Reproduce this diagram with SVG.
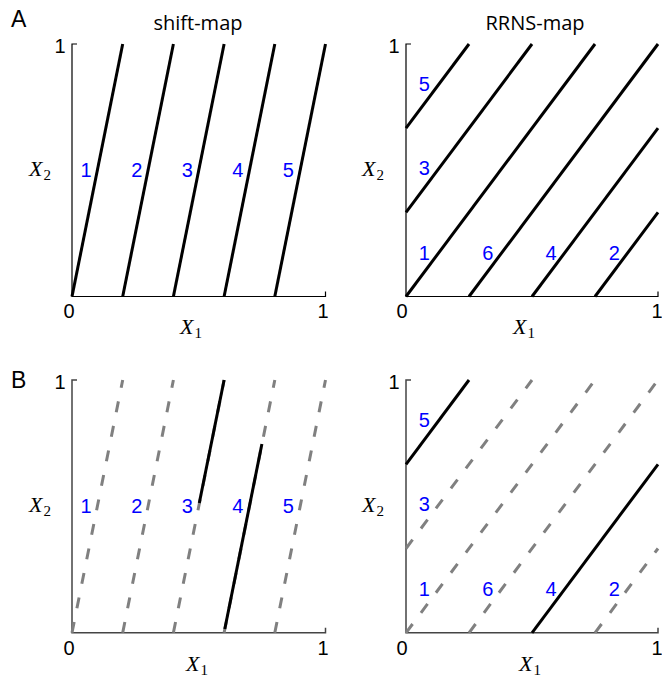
<svg xmlns="http://www.w3.org/2000/svg" width="662" height="677" viewBox="0 0 662 677">
<style>
.axA{fill:none;stroke:#000;stroke-width:1.2}
.axB{fill:none;stroke:#444;stroke-width:1.5}
.solid{stroke:#000;stroke-width:3;stroke-linecap:butt}
.dash{stroke:#808080;stroke-width:3;stroke-dasharray:11 14}
.num{font-family:"Liberation Sans",Arial,sans-serif;font-size:20px;fill:#0000ff;text-anchor:middle}
.tick{font-family:"Liberation Sans",Arial,sans-serif;font-size:20px;fill:#000;text-anchor:middle}
.title{font-family:"Open Sans","Liberation Sans",sans-serif;font-size:20px;fill:#000;text-anchor:middle}
.panel{font-family:"Liberation Sans",Arial,sans-serif;font-size:23px;fill:#000}
.var{font-family:"Liberation Serif","Times New Roman",serif;font-style:italic;font-size:22px;fill:#000}
.sub{font-family:"Liberation Serif","Times New Roman",serif;font-style:normal;font-size:15px;fill:#000}
</style>
<text class="panel" x="11" y="27">A</text>
<text class="panel" x="11" y="388">B</text>
<text class="title" x="198" y="30">shift-map</text>
<text class="title" x="535" y="30">RRNS-map</text>

<g id="panelA1">
  <path class="axA" d="M77,44 H72 V296.5 H325.5 V291.5"/>
  <text class="tick" x="60" y="53">1</text>
  <text class="tick" x="69" y="318">0</text>
  <text class="tick" x="323" y="318">1</text>
  <text class="var" x="29" y="176">X<tspan class="sub" dx="1" dy="4">2</tspan></text>
  <text class="var" x="180" y="334">X<tspan class="sub" dx="1" dy="4">1</tspan></text>
</g>
<g id="connectorsA1">
  <line class="solid" x1="72" y1="296.5" x2="122.7" y2="44"/>
  <line class="solid" x1="122.7" y1="296.5" x2="173.4" y2="44"/>
  <line class="solid" x1="173.4" y1="296.5" x2="224.1" y2="44"/>
  <line class="solid" x1="224.1" y1="296.5" x2="274.8" y2="44"/>
  <line class="solid" x1="274.8" y1="296.5" x2="325.5" y2="44"/>
</g>
<g id="labelsA1">
  <text class="num" x="86" y="176.5">1</text>
  <text class="num" x="136.7" y="176.5">2</text>
  <text class="num" x="187.3" y="176.5">3</text>
  <text class="num" x="237.7" y="176.5">4</text>
  <text class="num" x="288.3" y="176.5">5</text>
</g>

<g id="panelA2">
  <path class="axA" d="M411,44 H406 V296.5 H658 V291.5"/>
  <text class="tick" x="394" y="53">1</text>
  <text class="tick" x="402" y="318">0</text>
  <text class="tick" x="657" y="318">1</text>
  <text class="var" x="362" y="176">X<tspan class="sub" dx="1" dy="4">2</tspan></text>
  <text class="var" x="513" y="334">X<tspan class="sub" dx="1" dy="4">1</tspan></text>
</g>
<g id="connectorsA2">
  <line class="solid" x1="406" y1="128.2" x2="469" y2="44"/>
  <line class="solid" x1="406" y1="212.3" x2="532" y2="44"/>
  <line class="solid" x1="406" y1="296.5" x2="595" y2="44"/>
  <line class="solid" x1="469" y1="296.5" x2="658" y2="44"/>
  <line class="solid" x1="532" y1="296.5" x2="658" y2="128.2"/>
  <line class="solid" x1="595" y1="296.5" x2="658" y2="212.3"/>
</g>
<g id="labelsA2">
  <text class="num" x="424.3" y="90.5">5</text>
  <text class="num" x="424.3" y="175">3</text>
  <text class="num" x="424.3" y="260">1</text>
  <text class="num" x="487.7" y="260">6</text>
  <text class="num" x="551" y="260">4</text>
  <text class="num" x="614.3" y="260">2</text>
</g>

<g id="panelB1">
  <path class="axB" d="M77,380 H72 V632.8 H325.5 V627.8"/>
  <text class="tick" x="60" y="389">1</text>
  <text class="tick" x="69" y="655">0</text>
  <text class="tick" x="323" y="655">1</text>
  <text class="var" x="29" y="512">X<tspan class="sub" dx="1" dy="4">2</tspan></text>
  <text class="var" x="186" y="671">X<tspan class="sub" dx="1" dy="4">1</tspan></text>
</g>
<g id="connectorsB1">
  <line class="dash" x1="72" y1="632.8" x2="122.7" y2="380"/>
  <line class="dash" x1="122.7" y1="632.8" x2="173.4" y2="380"/>
  <line class="dash" x1="173.4" y1="632.8" x2="224.1" y2="380"/>
  <line class="dash" x1="224.1" y1="632.8" x2="274.8" y2="380"/>
  <line class="dash" x1="274.8" y1="632.8" x2="325.5" y2="380"/>
  <line class="solid" x1="199.3" y1="503" x2="224.1" y2="380"/>
  <line class="solid" x1="224.8" y1="629" x2="261.9" y2="444"/>
</g>
<g id="labelsB1">
  <text class="num" x="86" y="513">1</text>
  <text class="num" x="136.7" y="513">2</text>
  <text class="num" x="187.3" y="513">3</text>
  <text class="num" x="237.7" y="513">4</text>
  <text class="num" x="288.3" y="513">5</text>
</g>

<g id="panelB2">
  <path class="axB" d="M411,380 H406 V632.8 H658 V627.8"/>
  <text class="tick" x="394" y="389">1</text>
  <text class="tick" x="402" y="655">0</text>
  <text class="tick" x="657" y="655">1</text>
  <text class="var" x="362" y="512">X<tspan class="sub" dx="1" dy="4">2</tspan></text>
  <text class="var" x="519" y="671">X<tspan class="sub" dx="1" dy="4">1</tspan></text>
</g>
<g id="connectorsB2">
  <line class="dash" x1="406" y1="548.5" x2="532" y2="380"/>
  <line class="dash" x1="406" y1="632.8" x2="595" y2="380"/>
  <line class="dash" x1="469" y1="632.8" x2="658" y2="380"/>
  <line class="dash" x1="595" y1="632.8" x2="658" y2="548.5"/>
  <line class="solid" x1="406" y1="464.3" x2="469" y2="380"/>
  <line class="solid" x1="532" y1="632.8" x2="658" y2="464.3"/>
</g>
<g id="labelsB2">
  <text class="num" x="424.3" y="426.5">5</text>
  <text class="num" x="424.3" y="511">3</text>
  <text class="num" x="424.3" y="596">1</text>
  <text class="num" x="487.7" y="596">6</text>
  <text class="num" x="551" y="596">4</text>
  <text class="num" x="614.3" y="596">2</text>
</g>
</svg>
